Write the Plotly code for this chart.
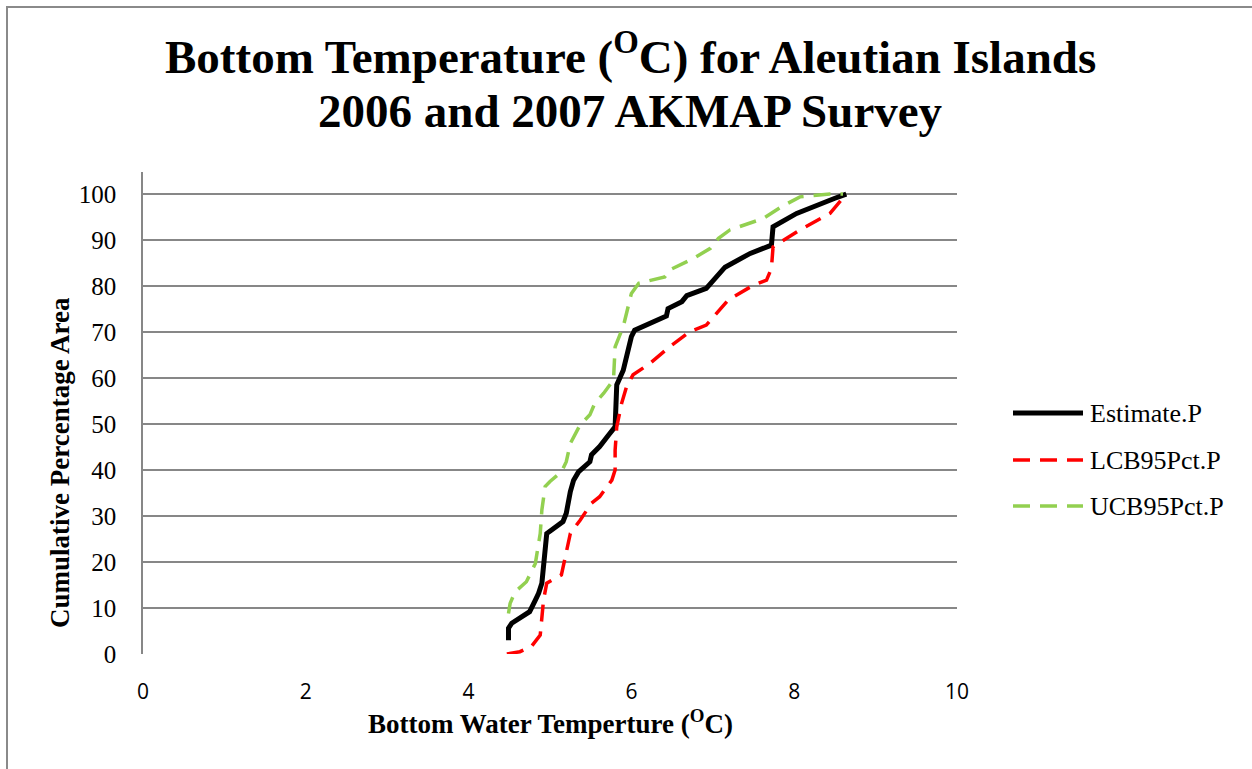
import plotly.graph_objects as go

# Cumulative distribution of bottom water temperature (deg C) vs percentage area
est_temp = [4.49, 4.49, 4.53, 4.75, 4.82, 4.86, 4.90, 4.94, 4.96, 5.16, 5.20, 5.25, 5.29,
            5.35, 5.49, 5.51, 5.61, 5.72, 5.80, 5.82, 5.90, 6.00, 6.04, 6.43, 6.45, 6.62,
            6.68, 6.92, 7.15, 7.46, 7.72, 7.74, 8.03, 8.50, 8.64]
est_pct = [3.0, 5.6, 6.7, 9.2, 11.7, 13.2, 15.4, 24.8, 26.2, 28.8, 30.6, 35.3, 37.8,
           39.6, 41.8, 43.3, 45.1, 47.6, 49.4, 58.5, 61.7, 69.0, 70.4, 73.5, 75.1, 76.6,
           77.9, 79.5, 84.1, 87.1, 88.9, 92.9, 95.8, 99.1, 100.0]

lcb_temp = [4.47, 4.63, 4.77, 4.88, 4.92, 4.96, 5.14, 5.20, 5.25, 5.37, 5.51, 5.61, 5.76,
            5.80, 5.80, 5.82, 5.88, 5.94, 6.02, 6.23, 6.47, 6.72, 6.92, 7.19, 7.50, 7.66,
            7.72, 7.74, 7.87, 8.07, 8.44, 8.64]
lcb_pct = [0.0, 0.5, 1.6, 4.1, 11.7, 15.4, 17.2, 22.6, 26.2, 29.1, 32.8, 34.2, 37.8,
           40.0, 44.3, 49.4, 54.5, 58.1, 60.7, 63.2, 66.8, 70.1, 71.5, 77.0, 80.2, 81.3,
           83.8, 88.5, 90.0, 92.2, 95.8, 100.0]

ucb_temp = [4.49, 4.51, 4.57, 4.71, 4.82, 4.88, 4.90, 4.94, 5.00, 5.14, 5.20, 5.25, 5.37,
            5.49, 5.55, 5.66, 5.78, 5.80, 5.90, 6.00, 6.09, 6.25, 6.41, 6.47, 6.76, 6.97,
            7.07, 7.21, 7.62, 7.85, 8.07, 8.44, 8.60]
ucb_pct = [8.8, 11.0, 13.5, 15.7, 19.7, 26.2, 31.3, 36.4, 37.5, 39.6, 41.8, 45.8, 49.8,
           52.0, 54.5, 56.7, 59.6, 66.8, 71.2, 78.4, 80.6, 81.3, 82.0, 83.5, 86.0, 88.2,
           90.4, 92.2, 94.7, 97.3, 99.4, 100.0, 100.0]

x_ticks = [0, 2, 4, 6, 8, 10]
y_ticks = [0, 10, 20, 30, 40, 50, 60, 70, 80, 90, 100]

title_lines = ["Bottom Temperature (<sup>O</sup>C) for Aleutian Islands",
               "2006 and 2007 AKMAP Survey"]

series = [
    ("Estimate.P", est_temp, est_pct, "#000000", 5, "solid"),
    ("LCB95Pct.P", lcb_temp, lcb_pct, "#FF0000", 3.5, "17px,10px"),
    ("UCB95Pct.P", ucb_temp, ucb_pct, "#92D050", 3.5, "17px,10px"),
]

W, H = 1252, 769
L, R, T, B = 143, 295, 172, 115
PW, PH = W - L - R, H - T - B
SERIF = "Liberation Serif, Times New Roman, serif"


def px(xp):
    return (xp - L) / PW


def py(yp):
    return (H - B - yp) / PH


fig = go.Figure()
for name, xs, ys, color, width, dash in series:
    fig.add_trace(go.Scatter(x=xs, y=ys, mode="lines", name=name, showlegend=False,
                             line=dict(color=color, width=width, dash=dash)))

shapes = []
annotations = []

# legend entries at the right of the plot
leg_y = [413, 460, 506]
for (name, xs, ys, color, width, dash), yy in zip(series, leg_y):
    shapes.append(dict(type="line", xref="paper", yref="paper",
                       x0=px(1013), x1=px(1083), y0=py(yy), y1=py(yy),
                       line=dict(color=color, width=width, dash=dash)))
    annotations.append(dict(text=name, xref="paper", yref="paper", x=px(1088), y=py(yy),
                            xanchor="left", yanchor="middle", showarrow=False,
                            font=dict(family=SERIF, size=26, color="#000000")))

# outer chart border (top and left edges visible)
shapes.append(dict(type="rect", xref="paper", yref="paper",
                   x0=px(7), x1=px(W + 20), y0=py(H + 20), y1=py(7),
                   line=dict(color="#8a8a8a", width=2), fillcolor="rgba(0,0,0,0)"))

# two-line chart title
for line, yc in zip(title_lines, [53, 111]):
    annotations.append(dict(text="<b>" + line + "</b>", xref="paper", yref="paper",
                            x=px(630), y=py(yc), xanchor="center", yanchor="middle",
                            showarrow=False,
                            font=dict(family=SERIF, size=47, color="#000000")))

# axis titles
annotations.append(dict(text="<b>Cumulative Percentage Area</b>", xref="paper", yref="paper",
                        x=px(60), y=py(463), textangle=-90, showarrow=False,
                        xanchor="center", yanchor="middle",
                        font=dict(family=SERIF, size=27, color="#000000")))
annotations.append(dict(text="<b>Bottom Water Temperture (<sup>O</sup>C)</b>", xref="paper",
                        yref="paper", x=px(550), y=py(722), showarrow=False,
                        xanchor="center", yanchor="middle",
                        font=dict(family=SERIF, size=27, color="#000000")))

fig.update_layout(
    width=W, height=H,
    margin=dict(l=L, r=R, t=T, b=B, pad=0),
    paper_bgcolor="white", plot_bgcolor="white",
    xaxis=dict(range=[0, 10], tickvals=x_ticks, ticktext=[str(v) for v in x_ticks],
               showgrid=False, zeroline=False, showline=False, ticks="",
               ticklabelstandoff=23,
               tickfont=dict(family="Open Sans, sans-serif", size=21, color="#000000")),
    yaxis=dict(range=[0, 104.8], tickvals=y_ticks, ticktext=[str(v) for v in y_ticks],
               showgrid=True, gridcolor="#878787", gridwidth=1.5, zeroline=False,
               showline=True, linecolor="#878787", linewidth=1.5, ticks="",
               ticklabelstandoff=20,
               tickfont=dict(family=SERIF, size=25, color="#000000")),
    shapes=shapes,
    annotations=annotations,
)

fig.write_html("out.html")
